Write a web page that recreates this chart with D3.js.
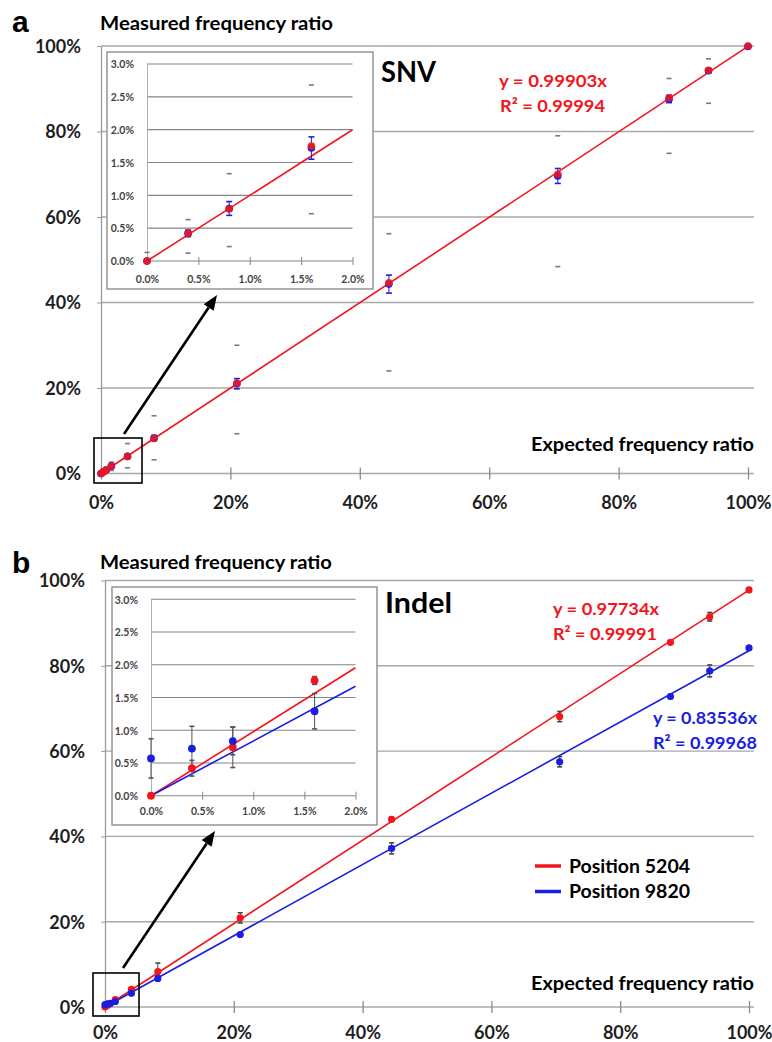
<!DOCTYPE html>
<html><head><meta charset="utf-8">
<script src="https://cdn.jsdelivr.net/npm/d3@7/dist/d3.min.js"></script>
<style>
body{margin:0;background:#fff}
svg{display:block}
text{font-family:Lato,"Open Sans",sans-serif;font-weight:bold}
</style>
</head><body>
<svg id="c" width="772" height="1042"></svg>
<script>
// ---------- data (percent) ----------
const expected = [0, 0.4, 0.8, 1.6, 4.1, 8.2, 21.0, 44.5, 70.6, 87.8, 93.9, 100];
const mainTicks = [0, 20, 40, 60, 80, 100];
const insetYTicks = [0, 0.5, 1.0, 1.5, 2.0, 2.5, 3.0];
const insetXTicks = [0, 0.5, 1.0, 1.5, 2.0];

// SNV panel
const snvRed = [0.0, 0.42, 0.79, 1.75, 4.0, 8.2, 21.1, 44.6, 70.0, 87.9, 94.3, 100.0];
const snvBlue = [0.0, 0.42, 0.80, 1.72, 4.0, 8.3, 21.0, 44.3, 69.6, 87.6, 94.2, 99.9];
const snvBlueErr = [0, 0.05, 0.105, 0.17, 0.3, 0.6, 1.2, 2.1, 1.75, 0.85, 0.5, 0];
const snvRangeHi = [0.13, 0.63, 1.33, 2.68, 7.0, 13.5, 30.0, 56.1, 79.0, 92.4, 97.0, null];
const snvRangeLo = [null, 0.12, 0.22, 0.72, 1.34, 3.2, 9.3, 24.0, 48.4, 74.9, 86.6, null];
const snvSlope = 0.99903;
const snvEquation = ["y = 0.99903x", "R² = 0.99994"];

// Indel panel
const pos5204 = [0.0, 0.42, 0.74, 1.76, 4.15, 8.3, 20.9, 44.0, 68.1, 85.5, 91.5, 97.8];
const pos5204Err = [0, 0.12, 0.31, 0.06, 0.4, 2.0, 1.2, 0.5, 1.2, 0.4, 1.0, 0.4];
const pos9820 = [0.57, 0.72, 0.835, 1.29, 3.2, 6.7, 17.0, 37.2, 57.5, 72.8, 78.8, 84.2];
const pos9820Err = [0.3, 0.34, 0.21, 0.27, 0.4, 0.5, 0.4, 1.3, 1.2, 0.5, 1.4, 0.4];
const slope5204 = 0.97734, slope9820 = 0.83536;
const eq5204 = ["y = 0.97734x", "R² = 0.99991"];
const eq9820 = ["y = 0.83536x", "R² = 0.99968"];
const legendLabels = ["Position 5204", "Position 9820"];

// ---------- styling ----------
const RED = "#f2161c", BLUE = "#1a1ee0", GRID = "#a8a8a8", IGRID = "#858585";
const svg = d3.select("#c");

function addText(g, str, x, y, size, opts = {}) {
  const t = g.append("text").attr("x", x).attr("y", y).attr("font-size", size)
    .attr("fill", opts.fill || "#111").attr("text-anchor", opts.anchor || "start").text(str);
  if (opts.family) t.style("font-family", opts.family);
  if (opts.width) t.attr("textLength", opts.width).attr("lengthAdjust", "spacingAndGlyphs");
  return t;
}

function errBars(g, xS, yS, xs, lo, hi, color, capW, stem, sw) {
  const [xmin, xmax] = xS.domain(), [ymin, ymax] = yS.domain();
  const d = xs.map((v, i) => ({x: v, lo: lo[i], hi: hi[i]})).filter(e => e.x >= xmin && e.x <= xmax);
  if (stem) {
    g.selectAll(null).data(d.filter(e => e.lo != null && e.hi != null && e.hi > e.lo)).join("line")
      .attr("x1", e => xS(e.x)).attr("x2", e => xS(e.x))
      .attr("y1", e => yS(Math.max(e.lo, ymin))).attr("y2", e => yS(Math.min(e.hi, ymax)))
      .attr("stroke", color).attr("stroke-width", sw);
  }
  const caps = [];
  d.forEach(e => {
    if (e.hi != null && e.lo != null && e.hi === e.lo) return;
    if (e.hi != null && e.hi >= ymin && e.hi <= ymax) caps.push({x: e.x, y: e.hi});
    if (e.lo != null && e.lo >= ymin && e.lo <= ymax) caps.push({x: e.x, y: e.lo});
  });
  g.selectAll(null).data(caps).join("line")
    .attr("x1", c => xS(c.x) - capW / 2).attr("x2", c => xS(c.x) + capW / 2)
    .attr("y1", c => yS(c.y)).attr("y2", c => yS(c.y))
    .attr("stroke", color).attr("stroke-width", 1.6);
}

function points(g, xS, yS, xs, ys, color, r, op) {
  const [xmin, xmax] = xS.domain();
  g.selectAll(null).data(xs.map((v, i) => [v, ys[i]]).filter(p => p[0] >= xmin && p[0] <= xmax)).join("circle")
    .attr("cx", p => xS(p[0])).attr("cy", p => yS(p[1])).attr("r", r)
    .attr("fill", color).attr("fill-opacity", op == null ? 1 : op);
}

function fitLine(g, xS, yS, slope, color) {
  const [xmin, xmax] = xS.domain();
  g.append("path").datum([xmin, xmax])
    .attr("d", d3.line().x(v => xS(v)).y(v => yS(slope * v)))
    .attr("stroke", color).attr("stroke-width", 1.6).attr("fill", "none");
}

function mainFrame(L) {
  const g = svg.append("g");
  const x = d3.scaleLinear().domain([0, 100]).range([L.x0, L.x100]);
  const y = d3.scaleLinear().domain([0, 100]).range([L.y0, L.y100]);
  g.selectAll(null).data(mainTicks).join("line")
    .attr("x1", L.x0).attr("x2", L.gridRight).attr("y1", d => y(d)).attr("y2", d => y(d))
    .attr("stroke", GRID).attr("stroke-width", 1.4);
  // x axis with crossing ticks
  const xa = g.append("g").attr("transform", `translate(0,${L.y0 - 6})`)
    .call(d3.axisBottom(x).tickValues(mainTicks).tickSize(12).tickFormat(d => d + "%"));
  xa.select(".domain").remove();
  xa.selectAll(".tick line").attr("stroke", "#8a8a8a").attr("stroke-width", 1.3);
  xa.selectAll("text").attr("y", L.xLabelBase - (L.y0 - 6)).attr("dy", null)
    .attr("font-size", 18).attr("fill", "#1e1e1e").style("font-family", "Lato").style("font-weight", "bold");
  // y axis
  const ya = g.append("g").attr("transform", `translate(${L.x0},0)`)
    .call(d3.axisLeft(y).tickValues(mainTicks).tickSizeInner(4).tickSizeOuter(0).tickPadding(16).tickFormat(d => d + "%"));
  ya.select(".domain").attr("stroke", "#9a9a9a").attr("stroke-width", 1.3);
  ya.selectAll(".tick line").attr("stroke", "#9a9a9a");
  ya.selectAll("text").attr("font-size", 18).attr("fill", "#1e1e1e").attr("dy", "0.36em")
    .style("font-family", "Lato").style("font-weight", "bold");
  return {g, x, y};
}

function insetFrame(I) {
  const g = svg.append("g");
  g.append("rect").attr("x", I.bx).attr("y", I.by).attr("width", I.bw).attr("height", I.bh)
    .attr("fill", "#fff").attr("stroke", "#8e8e8e").attr("stroke-width", 1.4);
  const x = d3.scaleLinear().domain([0, 2]).range([I.x0, I.x2]);
  const y = d3.scaleLinear().domain([0, 3]).range([I.y0, I.y3]);
  g.selectAll(null).data(insetYTicks.slice(1)).join("line")
    .attr("x1", I.x0).attr("x2", I.x2).attr("y1", d => y(d)).attr("y2", d => y(d))
    .attr("stroke", IGRID).attr("stroke-width", 1.1);
  const xa = g.append("g").attr("transform", `translate(0,${I.y0 - 4})`)
    .call(d3.axisBottom(x).tickValues(insetXTicks).tickSize(8).tickFormat(d3.format(".1f")));
  xa.select(".domain").remove();
  xa.selectAll(".tick line").attr("stroke", IGRID);
  xa.selectAll("text").text(d => d3.format(".1f")(d) + "%").attr("y", I.xLabelBase - (I.y0 - 4)).attr("dy", null)
    .attr("font-size", 10.5).attr("fill", "#444").style("font-family", "Lato").style("font-weight", "bold");
  g.append("line").attr("x1", I.x0).attr("x2", I.x2).attr("y1", I.y0).attr("y2", I.y0)
    .attr("stroke", IGRID).attr("stroke-width", 1.1);
  const ya = g.append("g").attr("transform", `translate(${I.x0},0)`)
    .call(d3.axisLeft(y).tickValues(insetYTicks).tickSize(0).tickPadding(13).tickFormat(d => d3.format(".1f")(d) + "%"));
  ya.select(".domain").attr("stroke", "#b0b0b0");
  ya.selectAll("text").attr("font-size", 10.5).attr("fill", "#444").attr("dy", "0.36em")
    .style("font-family", "Lato").style("font-weight", "bold");
  return {g, x, y};
}

function arrow(x1, y1, x2, y2) {
  const a = Math.atan2(y2 - y1, x2 - x1), L = 15, W = 6;
  const bx = x2 - L * Math.cos(a), by = y2 - L * Math.sin(a);
  svg.append("line").attr("x1", x1).attr("y1", y1).attr("x2", bx).attr("y2", by)
    .attr("stroke", "#000").attr("stroke-width", 2.6);
  svg.append("path").attr("d", `M${x2},${y2}L${bx - W * Math.sin(a)},${by + W * Math.cos(a)}L${bx + W * Math.sin(a)},${by - W * Math.cos(a)}Z`)
    .attr("fill", "#000");
}

// ================= Panel a : SNV =================
{
  const L = {x0: 101, x100: 748, y0: 473.5, y100: 46, gridRight: 754, xLabelBase: 508.5};
  const {g, x, y} = mainFrame(L);
  fitLine(g, x, y, snvSlope, RED);
  errBars(g, x, y, expected, snvRangeLo, snvRangeHi, "#7a7a7a", 5, false, 1);
  errBars(g, x, y, expected, snvBlue.map((v, i) => v - snvBlueErr[i]), snvBlue.map((v, i) => v + snvBlueErr[i]), BLUE, 6, true, 1);
  points(g, x, y, expected, snvBlue, BLUE, 3.8);
  points(g, x, y, expected, snvRed, RED, 3.8, 0.88);

  const I = {bx: 107, by: 52, bw: 266, bh: 237, x0: 147, x2: 352.5, y0: 261, y3: 64, xLabelBase: 282.5};
  const ins = insetFrame(I);
  fitLine(ins.g, ins.x, ins.y, snvSlope, RED);
  errBars(ins.g, ins.x, ins.y, expected, snvRangeLo, snvRangeHi, "#7a7a7a", 5, false, 1);
  errBars(ins.g, ins.x, ins.y, expected, snvBlue.map((v, i) => v - snvBlueErr[i]), snvBlue.map((v, i) => v + snvBlueErr[i]), BLUE, 6, true, 1);
  points(ins.g, ins.x, ins.y, expected, snvBlue, BLUE, 3.8);
  points(ins.g, ins.x, ins.y, expected, snvRed, RED, 3.8, 0.9);

  addText(svg, "a", 12, 32, 30, {family: "Liberation Sans", fill: "#000"});
  addText(svg, "Measured frequency ratio", 100, 30, 19, {width: 233, fill: "#000"});
  addText(svg, "Expected frequency ratio", 754, 450.5, 19, {anchor: "end", width: 223, fill: "#000"});
  addText(svg, "SNV", 381, 82, 29, {width: 55, fill: "#000"});
  addText(svg, snvEquation[0], 499, 87, 17.5, {width: 108, fill: RED});
  addText(svg, snvEquation[1], 500, 111.5, 17.5, {width: 105, fill: RED});

  svg.append("rect").attr("x", 94).attr("y", 438).attr("width", 48).attr("height", 45)
    .attr("fill", "none").attr("stroke", "#000").attr("stroke-width", 1.6);
  arrow(124, 434, 217, 295);
}

// ================= Panel b : Indel =================
{
  const L = {x0: 105, x100: 749, y0: 1007, y100: 580.5, gridRight: 754, xLabelBase: 1038.5};
  const {g, x, y} = mainFrame(L);
  fitLine(g, x, y, slope5204, RED);
  fitLine(g, x, y, slope9820, BLUE);
  errBars(g, x, y, expected, pos5204.map((v, i) => v - pos5204Err[i]), pos5204.map((v, i) => v + pos5204Err[i]), "#444", 5, true, 1);
  errBars(g, x, y, expected, pos9820.map((v, i) => v - pos9820Err[i]), pos9820.map((v, i) => v + pos9820Err[i]), "#444", 5, true, 1);
  points(g, x, y, expected, pos5204, RED, 3.6);
  points(g, x, y, expected, pos9820, BLUE, 3.6);

  const I = {bx: 112, by: 587, bw: 265, bh: 238, x0: 151, x2: 355.5, y0: 795.7, y3: 599.3, xLabelBase: 815.5};
  const ins = insetFrame(I);
  fitLine(ins.g, ins.x, ins.y, slope5204, RED);
  fitLine(ins.g, ins.x, ins.y, slope9820, BLUE);
  errBars(ins.g, ins.x, ins.y, expected, pos5204.map((v, i) => v - pos5204Err[i]), pos5204.map((v, i) => v + pos5204Err[i]), "#555", 5, true, 1);
  errBars(ins.g, ins.x, ins.y, expected, pos9820.map((v, i) => v - pos9820Err[i]), pos9820.map((v, i) => v + pos9820Err[i]), "#555", 5, true, 1);
  points(ins.g, ins.x, ins.y, expected, pos5204, RED, 3.9);
  points(ins.g, ins.x, ins.y, expected, pos9820, BLUE, 3.9);

  addText(svg, "b", 12, 573, 30, {family: "Liberation Sans", fill: "#000"});
  addText(svg, "Measured frequency ratio", 100, 568.5, 19, {width: 232, fill: "#000"});
  addText(svg, "Expected frequency ratio", 754, 989.5, 19, {anchor: "end", width: 223, fill: "#000"});
  addText(svg, "Indel", 385, 613, 29, {width: 67, fill: "#000"});
  addText(svg, eq5204[0], 553, 615, 17.5, {width: 106, fill: RED});
  addText(svg, eq5204[1], 553, 640, 17.5, {width: 104, fill: RED});
  addText(svg, eq9820[0], 757, 723.5, 17.5, {anchor: "end", width: 104, fill: BLUE});
  addText(svg, eq9820[1], 757, 748.5, 17.5, {anchor: "end", width: 104, fill: BLUE});

  const lg = svg.append("g");
  [RED, BLUE].forEach((c, i) => {
    const yy = 866 + i * 25.5;
    lg.append("line").attr("x1", 535).attr("x2", 561).attr("y1", yy).attr("y2", yy)
      .attr("stroke", c).attr("stroke-width", 3.5);
    addText(lg, legendLabels[i], 569, yy + 6.8, 18.5, {width: 121, fill: "#000"});
  });

  svg.append("rect").attr("x", 93).attr("y", 973).attr("width", 46).attr("height", 43)
    .attr("fill", "none").attr("stroke", "#000").attr("stroke-width", 1.6);
  arrow(123, 968, 215, 831);
}
</script>
</body></html>
